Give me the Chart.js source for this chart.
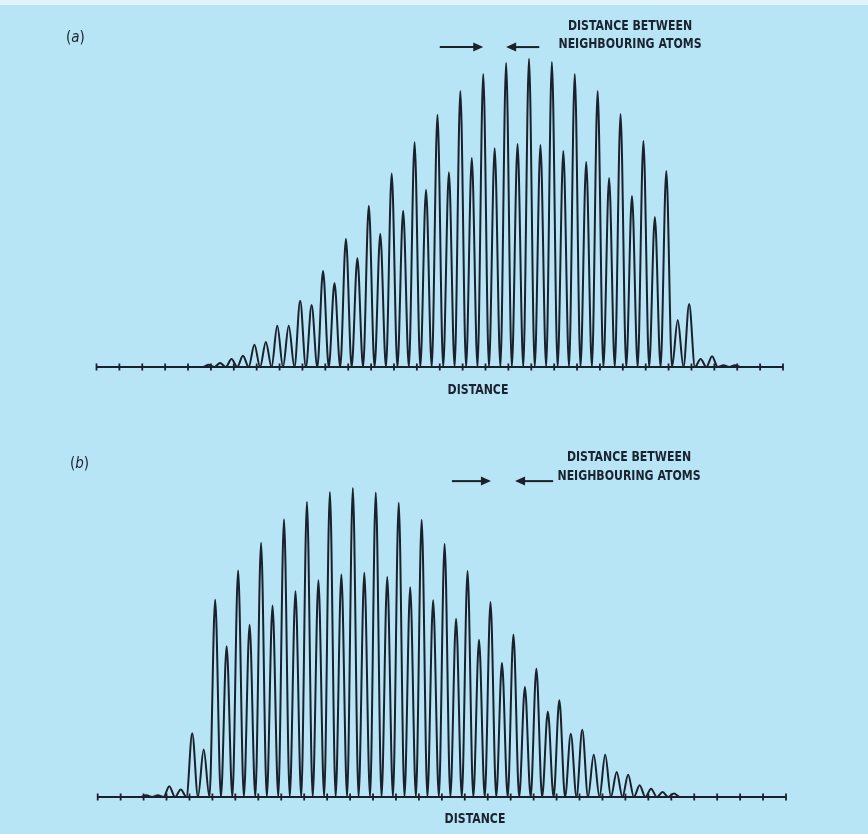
<!DOCTYPE html>
<html>
<head>
<meta charset="utf-8">
<script src="https://cdn.jsdelivr.net/npm/chart.js@4.4.1/dist/chart.umd.min.js"></script>
<style>
body { margin: 0; width: 868px; height: 834px; overflow: hidden; position: relative;
       background: #b7e5f5; color: #1b2230;
       font-family: "Liberation Sans Narrow", "DejaVu Sans Condensed", "Liberation Sans", sans-serif; }
.edge { position: absolute; left: 0; top: 0; width: 868px; height: 5px; background: #e2f3fa; }
canvas { position: absolute; left: 0; }
.lbl { position: absolute; font-weight: bold; font-size: 14px; text-align: center;
       white-space: nowrap; transform: translate(-50%, -50%) scaleX(0.87); }
.panel { position: absolute; font-size: 15px; transform: translateY(-50%); }
</style>
</head>
<body>
<div class="edge"></div>
<canvas id="chartA" width="868" height="420" style="top:0"></canvas>
<canvas id="chartB" width="868" height="414" style="top:420px"></canvas>

<div class="panel" style="left:66px;top:37px">(<i>a</i>)</div>
<div class="lbl" style="left:630px;top:34px;line-height:18px">DISTANCE BETWEEN<br>NEIGHBOURING ATOMS</div>
<div class="lbl" style="left:478px;top:389px">DISTANCE</div>

<div class="panel" style="left:70px;top:463px">(<i>b</i>)</div>
<div class="lbl" style="left:629px;top:466px;line-height:19px">DISTANCE BETWEEN<br>NEIGHBOURING ATOMS</div>
<div class="lbl" style="left:475px;top:818px">DISTANCE</div>

<script>
// tick marks along the distance axis (in tick units)
const tickValues = [0,1,2,3,4,5,6,7,8,9,10,11,12,13,14,15,16,17,18,19,20,21,22,23,24,25,26,27,28,29,30];

// peak heights, one every half tick (relative, tallest ~100)
const peakStepA = 0.5;
const peakStartA = 4.9;
const peaksA = [0.7, 1.3, 2.6, 3.6, 7.2, 8.1, 13.3, 13.3, 21.4, 20, 31, 27.1, 41.3, 35.1,
  52, 42.9, 62.4, 50.4, 72.5, 57.2, 81.4, 62.8, 89, 67.4, 94.5, 70.6, 98.1, 71.9, 99.4, 71.6,
  98.4, 69.7, 94.5, 66.1, 89, 61, 81.6, 55.2, 72.9, 48.4, 63.2, 15.2, 20.3, 2.6, 3.5, 0.6, 0.6];

const peakStepB = 0.5;
const peakStartB = 2.12;
const peaksB = [0.6, 0.6, 3.5, 2.4, 20.6, 15.3, 63.6, 48.6, 73.1, 55.6, 82, 61.8, 89.6, 66.4,
  95.2, 69.9, 98.4, 71.8, 99.7, 72.3, 98.2, 71, 94.9, 67.7, 89.4, 63.5, 81.7, 57.5, 72.9, 50.7,
  62.9, 43.2, 52.4, 35.5, 41.4, 27.6, 31.2, 20.4, 21.7, 13.6, 13.6, 8.1, 7.2, 3.8, 2.7, 1.6, 1.1];

const INK = "#1a202c";

// curve goes back down to the baseline between neighbouring peaks
function trace(start, step, peaks) {
  const pts = [{ x: 0, y: 0 }];
  peaks.forEach((h, i) => {
    const t = start + i * step;
    pts.push({ x: t - step / 2, y: 0 });
    pts.push({ x: t, y: h });
  });
  pts.push({ x: start + (peaks.length - 1) * step + step / 2, y: 0 });
  pts.push({ x: tickValues[tickValues.length - 1], y: 0 });
  return pts;
}

function arrow(ctx, x0, x1, y) {
  const dir = Math.sign(x1 - x0);
  ctx.beginPath();
  ctx.moveTo(x0, y);
  ctx.lineTo(x1 - dir * 8, y);
  ctx.stroke();
  ctx.beginPath();
  ctx.moveTo(x1, y);
  ctx.lineTo(x1 - dir * 10, y - 4.5);
  ctx.lineTo(x1 - dir * 10, y + 4.5);
  ctx.closePath();
  ctx.fill();
}

const axisTicks = {
  id: "axisTicks",
  beforeDatasetsDraw(chart, args, opts) {
    const { ctx, scales: { x, y } } = chart;
    const y0 = y.getPixelForValue(0);
    ctx.save();
    ctx.strokeStyle = INK;
    ctx.fillStyle = INK;
    ctx.lineWidth = 1.8;
    ctx.beginPath();
    ctx.moveTo(x.getPixelForValue(tickValues[0]), y0);
    ctx.lineTo(x.getPixelForValue(tickValues[tickValues.length - 1]), y0);
    tickValues.forEach(t => {
      const px = x.getPixelForValue(t);
      ctx.moveTo(px, y0 - 3.5);
      ctx.lineTo(px, y0 + 3.5);
    });
    ctx.stroke();
    // arrows marking the spacing of neighbouring atoms
    const ay = y.getPixelForValue(opts.arrowY);
    ctx.lineWidth = 2;
    arrow(ctx, x.getPixelForValue(opts.rightFrom), x.getPixelForValue(opts.rightTo), ay);
    arrow(ctx, x.getPixelForValue(opts.leftFrom), x.getPixelForValue(opts.leftTo), ay);
    ctx.restore();
  }
};

function makeChart(id, data, pad, arrows) {
  return new Chart(document.getElementById(id), {
    type: "line",
    data: {
      datasets: [{
        data: data,
        borderColor: INK,
        borderWidth: 2,
        pointRadius: 0,
        cubicInterpolationMode: "monotone",
        borderJoinStyle: "round",
        clip: false
      }]
    },
    options: {
      responsive: false,
      animation: false,
      layout: { padding: pad },
      scales: {
        x: { type: "linear", min: 0, max: 30, display: false },
        y: { min: 0, max: 100, display: false }
      },
      plugins: {
        legend: { display: false },
        tooltip: { enabled: false },
        axisTicks: arrows
      }
    },
    plugins: [axisTicks]
  });
}

makeChart("chartA", trace(peakStartA, peakStepA, peaksA),
  { left: 96.5, right: 85, top: 57, bottom: 53 },
  { arrowY: 103.2, rightFrom: 15.0, rightTo: 16.9, leftFrom: 19.35, leftTo: 17.9 });

makeChart("chartB", trace(peakStartB, peakStepB, peaksB),
  { left: 97.7, right: 82, top: 67, bottom: 37 },
  { arrowY: 101.9, rightFrom: 15.44, rightTo: 17.14, leftFrom: 19.85, leftTo: 18.19 });
</script>
</body>
</html>
